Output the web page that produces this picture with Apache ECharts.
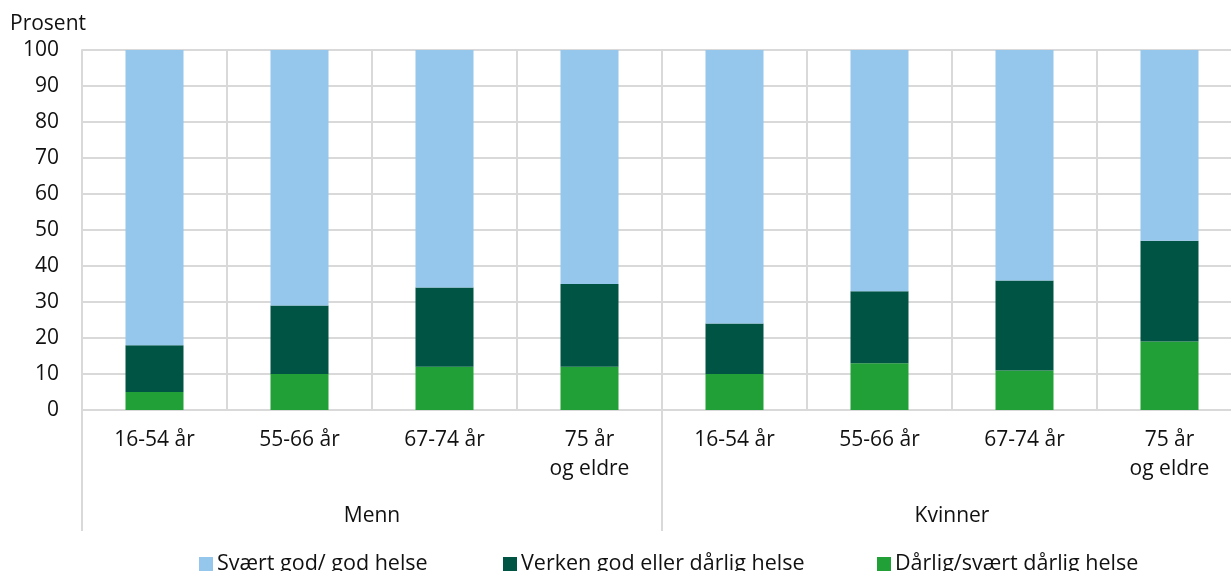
<!DOCTYPE html>
<html>
<head>
<meta charset="utf-8">
<script src="https://cdn.jsdelivr.net/npm/echarts@6/dist/echarts.min.js"></script>
<style>
html,body{margin:0;padding:0;overflow:hidden;background:#fff;width:1231px;height:571px;}
#chart{width:1242px;height:571px;}
</style>
</head>
<body>
<div id="chart"></div>
<script>
const categories = ['16-54 år','55-66 år','67-74 år','75 år\nog eldre','16-54 år','55-66 år','67-74 år','75 år\nog eldre'];
const groups = ['Menn','Kvinner'];
const yTicks = [0,10,20,30,40,50,60,70,80,90,100];
const seriesNames = ['Svært god/ god helse','Verken god eller dårlig helse','Dårlig/svært dårlig helse'];
const darlig = [5,10,12,12,10,13,11,19];
const verken = [13,19,22,23,14,20,25,28];
const god = [82,71,66,65,76,67,64,53];

const font = 'Open Sans';
const fs = 21;
const txt = '#111';
const gridColor = '#d9d9d9';
const colors = {god:'#95c6ec', verken:'#005444', darlig:'#21a037'};

const chart = echarts.init(document.getElementById('chart'));
function legendAt(left, name){
  return {left:left, top:553, padding:0, itemWidth:14, itemHeight:14, itemGap:0,
    icon:'rect', data:[name], selectedMode:false,
    textStyle:{fontFamily:font, fontSize:21.5, color:txt, padding:[0,0,0,-1]}};
}
chart.setOption({
  animation:false,
  title:{text:'Prosent', left:10, top:14, padding:0,
    textStyle:{fontFamily:font, fontSize:fs, fontWeight:'normal', color:txt}},
  legend:[legendAt(199, seriesNames[0]), legendAt(503, seriesNames[1]), legendAt(877, seriesNames[2])],
  grid:{left:82, right:0, top:50, bottom:161},
  xAxis:[
    {type:'category', data:categories, position:'bottom',
      axisLine:{show:true, lineStyle:{color:gridColor, width:2}},
      axisTick:{show:false},
      splitLine:{show:true, interval:0, lineStyle:{color:gridColor, width:2}},
      axisLabel:{interval:0, margin:16, fontFamily:font, fontSize:fs, color:txt, lineHeight:29, align:'center'}},
    {type:'category', data:groups, position:'bottom',
      axisLine:{show:false},
      axisTick:{show:true, interval:0, length:121, lineStyle:{color:gridColor, width:2}},
      splitLine:{show:false},
      axisLabel:{interval:0, margin:94, fontFamily:font, fontSize:fs, color:txt, lineHeight:24}}
  ],
  yAxis:{type:'value', min:0, max:100, interval:10,
    axisLine:{show:true, lineStyle:{color:gridColor, width:2}},
    axisTick:{show:false},
    splitLine:{show:true, lineStyle:{color:gridColor, width:2}},
    axisLabel:{margin:23, fontFamily:font, fontSize:fs, color:txt,
      formatter:function(v){return yTicks.indexOf(v)>=0 ? String(v) : '';}}},
  series:[
    {name:seriesNames[2], type:'bar', stack:'s', data:darlig, barWidth:58, itemStyle:{color:colors.darlig}, xAxisIndex:0},
    {name:seriesNames[1], type:'bar', stack:'s', data:verken, barWidth:58, itemStyle:{color:colors.verken}, xAxisIndex:0},
    {name:seriesNames[0], type:'bar', stack:'s', data:god, barWidth:58, itemStyle:{color:colors.god}, xAxisIndex:0}
  ]
});
</script>
</body>
</html>
